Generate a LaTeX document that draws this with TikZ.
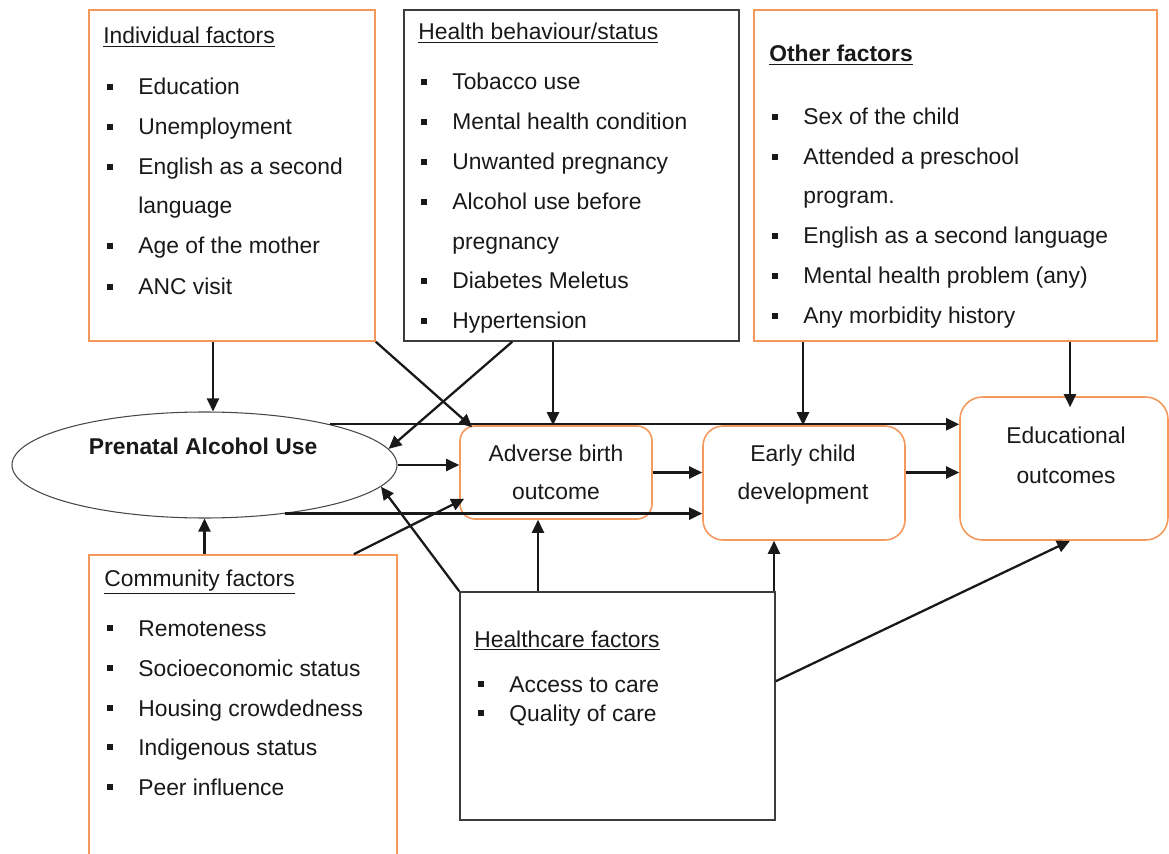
\documentclass[tikz,border=0pt]{standalone}
\usepackage{fontspec}
\setmainfont{Liberation Sans}
\usetikzlibrary{arrows.meta,shapes.geometric,calc}
\definecolor{org}{RGB}{244,152,92}
\definecolor{ink}{RGB}{25,25,25}
\tikzset{
  obox/.style={draw=org, line width=0.9pt, inner sep=0pt},
  kbox/.style={draw=ink!85, line width=0.9pt, inner sep=0pt},
  txt/.style={anchor=base west, inner sep=0pt, text=ink},
  ctxt/.style={anchor=base, inner sep=0pt, text=ink},
  bul/.style={fill=ink, inner sep=0pt, minimum size=0.11cm},
  arr/.style={draw=ink, line width=1.3pt, -{Triangle[length=2.6mm,width=2.4mm]}},
}
\newcommand\bitem[4]{\node[bul] (#1b) at (#2-28,#3-8) {}; \node[txt] (#1) at (#2,#3) {#4};}
\begin{document}
\begin{tikzpicture}[x=0.02cm,y=-0.02cm,font=\fontsize{13}{15}\selectfont]
\useasboundingbox (0,0) rectangle (1169,854);
\fill[white] (0,0) rectangle (1169,854);

% top boxes
\node[obox, minimum width=286*0.02cm, minimum height=331*0.02cm] (ind) at (232,175.5) {};
\node[kbox, minimum width=335*0.02cm, minimum height=331*0.02cm] (hb) at (571.5,175.5) {};
\node[obox, minimum width=403*0.02cm, minimum height=331*0.02cm] (oth) at (955.5,175.5) {};

% bottom boxes
\begin{scope}
\clip (0,0) rectangle (1169,854);
\node[obox, minimum width=308*0.02cm, minimum height=330*0.02cm] (com) at (243,720) {};
\end{scope}
\node[kbox, minimum width=315*0.02cm, minimum height=228*0.02cm] (hc) at (617.5,706) {};

% middle nodes
\node[draw=ink!80, line width=0.6pt, ellipse, inner sep=0pt, minimum width=385*0.02cm, minimum height=106*0.02cm] (ell) at (204.5,465) {};
\node[ctxt, font=\fontsize{13}{15}\selectfont\bfseries] (ellt) at (203,455) {Prenatal Alcohol Use};
\node[obox, rounded corners=0.3cm, minimum width=192*0.02cm, minimum height=93*0.02cm] (adv) at (556,472.5) {};
\node[obox, rounded corners=0.4cm, minimum width=202*0.02cm, minimum height=114*0.02cm] (early) at (804,483) {};
\node[obox, rounded corners=0.45cm, minimum width=208*0.02cm, minimum height=143*0.02cm] (edu) at (1064,468.5) {};
\node[ctxt] (advt1) at (556,461) {Adverse birth};
\node[ctxt] (advt2) at (556,500) {outcome};
\node[ctxt] (earlyt1) at (803,461) {Early child};
\node[ctxt] (earlyt2) at (803,500) {development};
\node[ctxt] (edut1) at (1066,443) {Educational};
\node[ctxt] (edut2) at (1066,483) {outcomes};

% Individual factors
\node[txt] (indt) at (103,44) {\underline{Individual factors}};
\bitem{i1}{138}{95}{Education}
\bitem{i2}{138}{135}{Unemployment}
\bitem{i3}{138}{175}{English as a second}
\node[txt] (i3b2) at (138,214) {language};
\bitem{i4}{138}{254}{Age of the mother}
\bitem{i5}{138}{295}{ANC visit}

% Health behaviour
\node[txt] (hbt) at (418,40) {\underline{Health behaviour/status}};
\bitem{h1}{452}{90}{Tobacco use}
\bitem{h2}{452}{130}{Mental health condition}
\bitem{h3}{452}{170}{Unwanted pregnancy}
\bitem{h4}{452}{210}{Alcohol use before}
\node[txt] (h4b2) at (452,250) {pregnancy};
\bitem{h5}{452}{289}{Diabetes Meletus}
\bitem{h6}{452}{329}{Hypertension}

% Other factors
\node[txt] (otht) at (769,62) {\textbf{\underline{Other factors}}};
\bitem{o1}{803}{125}{Sex of the child}
\bitem{o2}{803}{165}{Attended a preschool}
\node[txt] (o2b2) at (803,204) {program.};
\bitem{o3}{803}{244}{English as a second language}
\bitem{o4}{803}{284}{Mental health problem (any)}
\bitem{o5}{803}{324}{Any morbidity history}

% Community factors
\node[txt] (comt) at (104,586) {\underline{Community factors}};
\bitem{c1}{138}{636}{Remoteness}
\bitem{c2}{138}{676}{Socioeconomic status}
\bitem{c3}{138}{716}{Housing crowdedness}
\bitem{c4}{138}{755}{Indigenous status}
\bitem{c5}{138}{795}{Peer influence}

% Healthcare factors
\node[txt] (hct) at (474,647) {\underline{Healthcare factors}};
\bitem{k1}{509}{692}{Access to care}
\bitem{k2}{509}{721}{Quality of care}

% connectors
\draw[arr] (213,0 |- ind.south) -- (213,0 |- ell.north);
\draw[arr] (ind.south east) -- ($(adv.north west)+(13,2)$);
\draw[arr] ($(hb.south west)+(109,0)$) -- (ell.5);
\draw[arr] (553,0 |- hb.south) -- (553,0 |- adv.north);
\draw[arr] (803,0 |- oth.south) -- (803,0 |- early.north);
\draw[arr] (1070,0 |- oth.south) -- ($(1070,0 |- edu.north)+(0,11)$);
\draw[arr] (ell.18.2) -- (ell.18.2 -| edu.west);
\draw[arr] (ell.east) -- (ell.east -| adv.west);
\draw[arr] (adv.east) -- (adv.east -| early.west);
\draw[arr] (early.east |- adv.east) -- (edu.west |- adv.east);
\draw[arr] (ell.-31.7) -- (ell.-31.7 -| early.west);
\draw[arr] (com.north -| ell.south) -- (ell.south);
\draw[arr] ($(com.north east)+(-44,0)$) -- ($(adv.south west)+(5,-21)$);
\draw[arr] (hc.north west) -- (ell.-7.3);
\draw[arr] (538,0 |- hc.north) -- (538,0 |- adv.south);
\draw[arr] (774,0 |- hc.north) -- (774,0 |- early.south);
\draw[arr] ($(hc.north east)+(0,90)$) -- (1070,0 |- edu.south);
\end{tikzpicture}
\end{document}
